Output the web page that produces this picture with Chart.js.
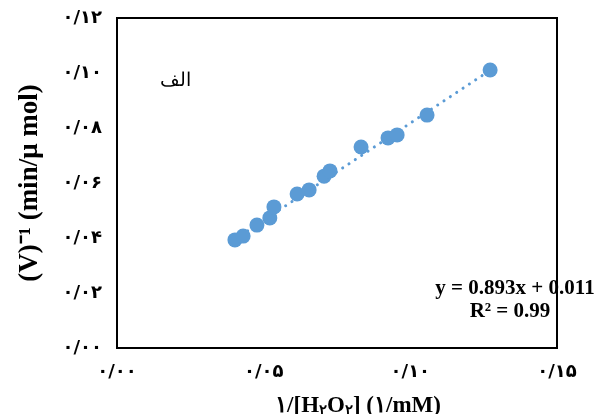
<!DOCTYPE html>
<html>
<head>
<meta charset="utf-8">
<script src="https://cdn.jsdelivr.net/npm/chart.js@4.4.0/dist/chart.umd.min.js"></script>
<style>
  html, body { margin: 0; padding: 0; background: #fff; }
  #wrap { width: 595px; height: 414px; }
</style>
</head>
<body>
<div id="wrap"><canvas id="chart" width="595" height="414"></canvas></div>
<script>
// values
const xValues = [0.0402, 0.0430, 0.0477, 0.0521, 0.0535, 0.0614, 0.0655, 0.0706, 0.0726, 0.0832, 0.0924, 0.0955, 0.1057, 0.1272];
const yValues = [0.0393, 0.0407, 0.0447, 0.0473, 0.0513, 0.0560, 0.0575, 0.0625, 0.0644, 0.0731, 0.0764, 0.0775, 0.0847, 0.1011];

// trendline ends as drawn
const trendX = [0.0402, 0.1272];
const trendY = [0.0395, 0.1010];

const yTickLabels = ["۰/۰۰", "۰/۰۲", "۰/۰۴", "۰/۰۶", "۰/۰۸", "۰/۱۰", "۰/۱۲"];
const xTickLabels = ["۰/۰۰", "۰/۰۵", "۰/۱۰", "۰/۱۵"];

const blue = "#5B9BD5";
const serif = "'Liberation Serif', 'Times New Roman', serif";
const tickFont = "'DejaVu Sans', sans-serif";

const points = xValues.map((x, i) => ({ x: x, y: yValues[i] }));
const trend = trendX.map((x, i) => ({ x: x, y: trendY[i] }));

// draws pieces left to right, [text, isSubscript]
function drawPieces(ctx, pieces, cx, baseline, size) {
    const big = "bold " + size + "px " + serif;
    const small = "bold " + Math.round(size * 0.65) + "px " + serif;
    let total = 0;
    pieces.forEach(p => { ctx.font = p[1] ? small : big; total += ctx.measureText(p[0]).width; });
    let x = cx - total / 2;
    ctx.textAlign = "left";
    ctx.textBaseline = "alphabetic";
    pieces.forEach(p => {
        ctx.font = p[1] ? small : big;
        ctx.fillText(p[0], x, baseline + (p[1] ? size * 0.12 : 0));
        x += ctx.measureText(p[0]).width;
    });
}

// box around plot area + text notes
const boxPlugin = {
    id: "box",
    afterDraw(chart) {
        const ctx = chart.ctx;
        const a = chart.chartArea;
        ctx.save();
        ctx.strokeStyle = "#000";
        ctx.lineWidth = 2;
        ctx.strokeRect(a.left, a.top, a.right - a.left, a.bottom - a.top);

        ctx.fillStyle = "#000";
        ctx.textAlign = "center";
        ctx.textBaseline = "middle";
        ctx.font = "19px " + serif;
        ctx.fillText("الف", 175, 81);

        ctx.font = "bold 21px " + serif;
        ctx.fillText("y = 0.893x + 0.011", 515, 289);
        ctx.fillText("R² = 0.99", 510, 312);

        drawPieces(ctx, [["۱/[H", false], ["۲", true], ["O", false], ["۲", true], ["] (۱/mM)", false]], 358, 412, 23);
        ctx.restore();
    }
};

new Chart(document.getElementById("chart").getContext("2d"), {
    type: "scatter",
    data: {
        datasets: [{
            label: "data",
            data: points,
            backgroundColor: blue,
            borderColor: blue,
            pointRadius: 7.5,
            pointHoverRadius: 7.5,
            borderWidth: 0,
            order: 1
        }, {
            label: "trend",
            data: trend,
            showLine: true,
            borderColor: blue,
            borderWidth: 3,
            borderDash: [0.1, 7.5],
            borderCapStyle: "round",
            pointRadius: 0,
            fill: false,
            order: 2
        }]
    },
    options: {
        animation: false,
        responsive: false,
        devicePixelRatio: 1,
        layout: { padding: { top: 18, right: 38, left: 0, bottom: 0 } },
        plugins: { legend: { display: false }, tooltip: { enabled: false } },
        scales: {
            x: {
                type: "linear",
                min: 0, max: 0.15,
                grid: { display: false },
                border: { display: false },
                afterBuildTicks: (s) => { s.ticks = xTickLabels.map((t, i) => ({ value: i * 0.05 })); },
                afterFit: (s) => { s.height = 66; },
                ticks: {
                    padding: 6,
                    maxRotation: 0,
                    color: "#000",
                    font: { family: tickFont, size: 18, weight: "bold" },
                    callback: (v, i) => xTickLabels[i]
                }
            },
            y: {
                type: "linear",
                min: 0, max: 0.12,
                grid: { display: false },
                border: { display: false },
                afterBuildTicks: (s) => { s.ticks = yTickLabels.map((t, i) => ({ value: i * 0.02 })); },
                afterFit: (s) => { s.width = 117; },
                ticks: {
                    padding: 7,
                    color: "#000",
                    font: { family: tickFont, size: 18, weight: "bold" },
                    callback: (v, i) => yTickLabels[i]
                },
                title: {
                    display: true,
                    text: "(V)⁻¹ (min/μ mol)",
                    color: "#000",
                    padding: { top: 14, bottom: 0 },
                    font: { family: serif, size: 27, weight: "bold" }
                }
            }
        }
    },
    plugins: [boxPlugin]
});
</script>
</body>
</html>
